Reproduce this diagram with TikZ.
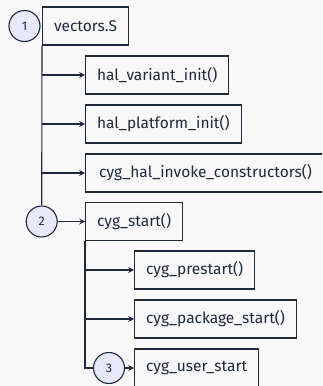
\documentclass[tikz,border=0pt]{standalone}
\usepackage{fontspec}
\setmainfont{Fira Sans}
\usetikzlibrary{arrows.meta}
\definecolor{ink}{RGB}{30,42,58}
\definecolor{stepfill}{RGB}{232,232,250}
\definecolor{paper}{RGB}{248,248,248}
\tikzset{
  fn/.style={draw=ink, line width=1.1pt, anchor=west, minimum height=38pt,
    inner xsep=11.5pt, font=\fontsize{15.5}{18}\selectfont, text=ink},
  stepdot/.style={circle, draw=ink, line width=1.1pt, fill=stepfill,
    minimum size=31pt, inner sep=0pt, font=\fontsize{12.5}{14}\selectfont, text=ink},
  link/.style={draw=ink, line width=1.1pt},
  call/.style={link, -{Stealth[length=6pt,width=6pt,inset=2.5pt]}},
}
\begin{document}
\begin{tikzpicture}[x=1pt,y=-1pt]
  \fill[paper] (0,0) rectangle (322,386);
  \useasboundingbox (0,0) rectangle (322,386);
  \clip (0,0) rectangle (322,386);

  % reset vector stage
  \node[fn] (vec) at (42,26) {vectors.S};
  \node[stepdot] (s1) at (24.5,26) {1};
  \node[fn] (hv) at (85,75) {hal\_variant\_init()};
  \node[fn] (hp) at (85,124) {hal\_platform\_init()};
  \node[fn, minimum width=240pt] (hc) at (85,173) {cyg\_hal\_invoke\_constructors()};

  % cyg_start stage
  \node[stepdot] (s2) at (41.7,221.5) {2};
  \node[fn] (cs) at (85,221.5) {cyg\_start()};
  \node[fn] (cp) at (134,270) {cyg\_prestart()};
  \node[fn] (ck) at (134,319) {cyg\_package\_start()};
  \node[fn] (cu) at (134,368) {cyg\_user\_start};
  \node[stepdot] (s3) at (109,368) {3};

  % call tree of vectors.S
  \draw[link] (vec.south west) -- (s2.north);
  \draw[call] (vec.south west |- hv.west) -- (hv.west);
  \draw[call] (vec.south west |- hp.west) -- (hp.west);
  \draw[call] (vec.south west |- hc.west) -- (hc.west);

  % call tree of cyg_start()
  \draw[call] (s2.east) -- (cs.west);
  \draw[link] (cs.south west) |- (s3.west);
  \draw[call] (cs.south west |- cp.west) -- (cp.west);
  \draw[call] (cs.south west |- ck.west) -- (ck.west);
  \draw[call] (s3.east) -- (cu.west);
\end{tikzpicture}
\end{document}
